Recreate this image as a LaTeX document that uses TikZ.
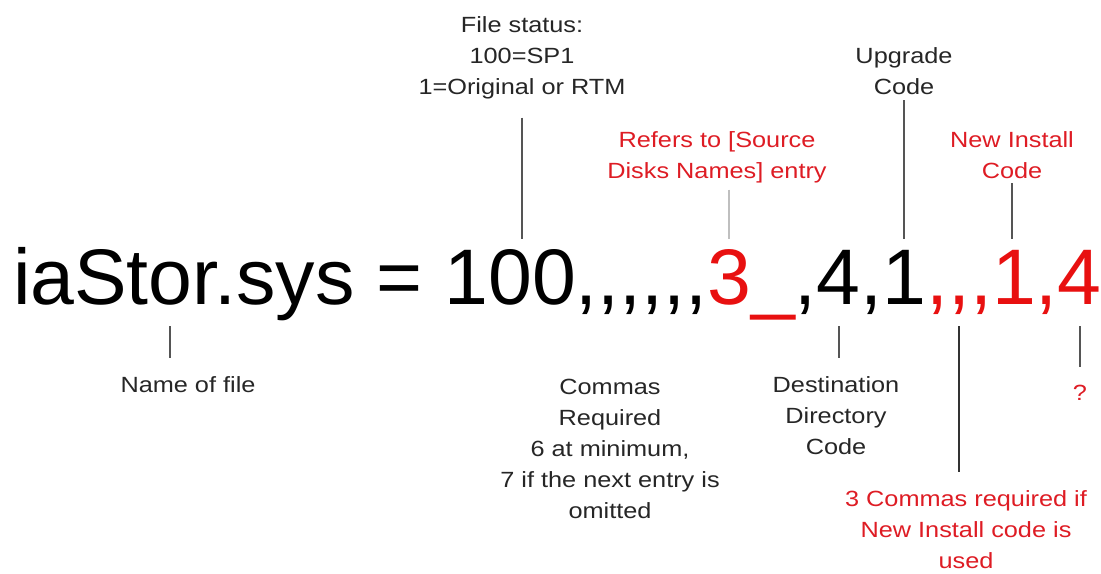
\documentclass[tikz,border=0pt]{standalone}
\usepackage{fontspec}
\setmainfont{Liberation Sans}
\newfontfamily\bigfont{Liberation Sans}
\newfontfamily\lblfont[FakeStretch=1.15]{Liberation Sans}
\usetikzlibrary{positioning}
\definecolor{inkred}{RGB}{232,16,16}
\definecolor{lblred}{RGB}{222,28,36}
\definecolor{tickgray}{RGB}{85,85,85}

\begin{document}
\begin{tikzpicture}[x=0.5pt, y=-0.5pt,
    part/.style={inner sep=0pt, outer sep=0pt, font=\bigfont\fontsize{39.4}{39.4}\selectfont},
    lbl/.style={inner sep=0pt, outer sep=0pt, align=center, anchor=base,
        text=black!85, font=\lblfont\fontsize{11}{15.5}\selectfont},
    tick/.style={draw=tickgray, line width=0.8pt}]
    \useasboundingbox (0,0) rectangle (1101,573);

    % the inf line
    \node[part, anchor=base west] (fname) at (13,304) {iaStor.sys};
    \node[part, base right=0pt of fname] (eq) {\ =\ \null};
    \node[part, base right=0pt of eq] (stat) {100};
    \node[part, base right=0pt of stat] (cmsix) {,,,,,,};
    \node[part, text=inkred, base right=0pt of cmsix] (src) {3};
    \node[part, text=inkred, base right=0pt of src] (und) {\_};
    \node[part, base right=0pt of und] (cma) {,};
    \node[part, base right=0pt of cma] (dst) {4};
    \node[part, base right=0pt of dst] (cmb) {,};
    \node[part, base right=0pt of cmb] (upg) {1};
    \node[part, text=inkred, base right=0pt of upg] (cmthree) {,,,};
    \node[part, text=inkred, base right=0pt of cmthree] (nic) {1};
    \node[part, text=inkred, base right=0pt of nic] (cmc) {,};
    \node[part, text=inkred, base right=0pt of cmc] (unk) {4};

    % labels above (base = last line)
    \node[lbl] (statlbl) at (522,94) {File status:\\100=SP1\\1=Original or RTM};
    \node[lbl, text=lblred] (srclbl) at (717,178) {Refers to [Source\\Disks Names] entry};
    \node[lbl] (upglbl) at (904,94) {Upgrade\\Code};
    \node[lbl, text=lblred] (niclbl) at (1012,178) {New Install\\Code};

    \draw[tick] ([yshift=-9.5pt]statlbl.south) -- ([yshift=5pt]statlbl.south |- stat.north);
    \draw[tick, draw=black!25] ([yshift=-3.5pt]srclbl.south -| src.north) -- ([yshift=5pt]src.north);
    \draw[tick] ([yshift=-3pt]upglbl.south) -- ([yshift=5pt]upglbl.south |- stat.north);
    \draw[tick] ([yshift=-2.5pt]niclbl.south) -- ([yshift=5pt]niclbl.south |- stat.north);

    % labels below
    \node[lbl] (namelbl) at (188,392) {Name of file};
    \node[lbl] (cmlbl) at (610,518) {Commas\\Required\\6 at minimum,\\7 if the next entry is\\omitted};
    \node[lbl] (dstlbl) at (836,454) {Destination\\Directory\\Code};
    \node[lbl, text=lblred] (redlbl) at (966,568) {3 Commas required if\\New Install code is\\used};
    \node[lbl, text=lblred] (qlbl) at (1080,400) {?};

    \draw[tick] ([xshift=-7pt,yshift=-3pt]fname.south) -- ([xshift=-7pt,yshift=9pt]fname.south |- namelbl.north);
    \draw[tick] ([yshift=-3pt]fname.south -| dst.south) -- ([yshift=9pt]dst.south |- dstlbl.north);
    \draw[tick, draw=black!80] ([yshift=-3pt]fname.south -| cmthree.south) -- ([yshift=9pt]cmthree.south |- redlbl.north);
    \draw[tick] ([yshift=-3pt]fname.south -| qlbl.north) -- ([yshift=9pt]qlbl.north);
\end{tikzpicture}
\end{document}
